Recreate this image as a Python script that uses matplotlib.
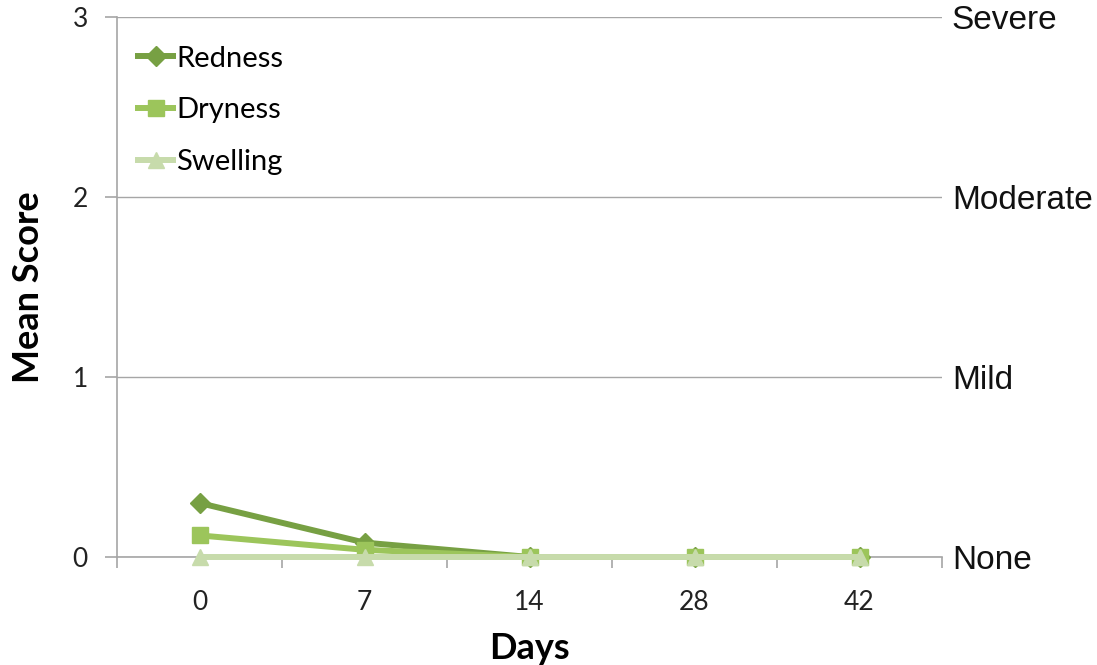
import numpy as np
import matplotlib.pyplot as plt
from matplotlib.ticker import FixedLocator

days = ["0", "7", "14", "28", "42"]
redness = [0.30, 0.08, 0.0, 0.0, 0.0]
dryness = [0.12, 0.04, 0.0, 0.0, 0.0]
swelling = [0.0, 0.0, 0.0, 0.0, 0.0]
severity = ["None", "Mild", "Moderate", "Severe"]

series = [
    ("Redness", redness, "#77a043", "D", 10),
    ("Dryness", dryness, "#9cc55b", "s", 11),
    ("Swelling", swelling, "#c7dbab", "^", 11),
]

fig = plt.figure(figsize=(10.97, 6.65), dpi=100)
ax = fig.add_axes([117 / 1097, 1 - 557 / 665, (942 - 117) / 1097, (557 - 17) / 665])

x = np.arange(len(days))
for i, (name, vals, col, mk, ms) in enumerate(series):
    ax.plot(x, vals, color=col, lw=4.3, marker=mk, ms=ms, label=name,
            clip_on=False, zorder=3 + i, solid_capstyle="butt")

ax.set_xlim(-0.5, len(days) - 0.5)
ax.set_ylim(0, 3)
ax.set_yticks([0, 1, 2, 3])
ax.set_xticks(x)
ax.set_xticklabels(days)
ax.xaxis.set_minor_locator(FixedLocator(np.arange(-0.5, len(days), 1.0)))

grey = "#a6a6a6"
ax.yaxis.grid(True, color=grey, lw=1)
ax.set_axisbelow(True)
for s in ["top", "right"]:
    ax.spines[s].set_visible(False)
for s in ["left", "bottom"]:
    ax.spines[s].set_color(grey)
    ax.spines[s].set_linewidth(1.2)

ax.tick_params(axis="x", which="major", length=0, pad=24, labelsize=19, labelcolor="#222222")
ax.tick_params(axis="x", which="minor", length=8, width=1.2, color=grey, direction="out")
ax.tick_params(axis="y", length=9, width=1.2, color=grey, pad=12, labelsize=19, labelcolor="#222222")
for lab in ax.get_xticklabels() + ax.get_yticklabels():
    lab.set_fontfamily("Lato")

ax.set_xlabel("Days", fontfamily="Lato", fontweight="bold", fontsize=26, labelpad=12)
ax.set_ylabel("Mean Score", fontfamily="Lato", fontweight="bold", fontsize=26, labelpad=20)

# severity scale on the right
for v, txt in enumerate(severity):
    ax.text(1.012, v, txt, transform=ax.get_yaxis_transform(), va="center_baseline", ha="left",
            fontfamily="Liberation Sans", fontsize=24, color="#111111")

leg = ax.legend(loc="upper left", bbox_to_anchor=(0.022, 0.947), frameon=False,
                handlelength=1.4, handletextpad=0.0, labelspacing=0.88,
                prop=dict(family="Lato", size=21), borderaxespad=0, borderpad=0)

fig.savefig("out.png", dpi=100)
